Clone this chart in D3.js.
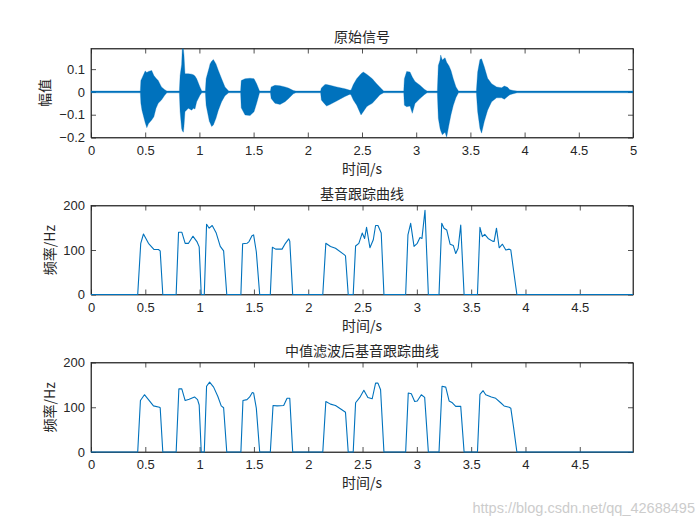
<!DOCTYPE html>
<html>
<head>
<meta charset="utf-8">
<script src="https://cdn.jsdelivr.net/npm/d3@7"></script>
<style>
  body { margin: 0; background: #fff; }
  svg { display: block; }
  .axis text { font-family: "Liberation Sans", Arial, sans-serif; font-size: 13px; fill: #262626; }
  .axis path, .axis line { stroke: #262626; stroke-width: 0.8; }
  .ttl, .lbl { font-family: "Noto Sans CJK SC", sans-serif; font-size: 14px; fill: #262626; }
</style>
</head>
<body>
<script>
// ---- data ----
// raw speech signal: envelope (upper / lower) over time
var waveT  = [0, 0.455, 0.46, 0.47, 0.50, 0.515, 0.53, 0.56, 0.58, 0.60, 0.62, 0.65, 0.68, 0.70,
  0.815, 0.822, 0.836, 0.842, 0.852, 0.858, 0.867, 0.898, 0.929, 0.944, 0.959, 0.975, 1.005, 1.022,
  1.055, 1.062, 1.092, 1.098, 1.113, 1.129, 1.153, 1.175, 1.205, 1.236, 1.27,
  1.38, 1.386, 1.421, 1.467, 1.504, 1.528, 1.555,
  1.655, 1.662, 1.697, 1.744, 1.79, 1.821, 1.867, 1.89,
  2.118, 2.125, 2.159, 2.174, 2.205, 2.266, 2.343, 2.39, 2.40, 2.42, 2.451, 2.491, 2.512, 2.543, 2.558, 2.595, 2.635, 2.666, 2.70,
  2.885, 2.891, 2.912, 2.943, 2.964, 2.989, 3.035, 3.075, 3.10,
  3.195, 3.204, 3.22, 3.226, 3.241, 3.266, 3.281, 3.302, 3.321, 3.342, 3.367, 3.39,
  3.555, 3.567, 3.588, 3.603, 3.628, 3.659, 3.696, 3.742, 3.788, 3.813, 3.843, 3.864, 3.895, 3.93, 5];
var waveHi = [0.004, 0.004, 0.05, 0.06, 0.092, 0.085, 0.09, 0.094, 0.072, 0.06, 0.05, 0.022, 0.01, 0.004,
  0.004, 0.072, 0.12, 0.19, 0.19, 0.16, 0.08, 0.08, 0.078, 0.075, 0.07, 0.058, 0.022, 0.004,
  0.004, 0.058, 0.11, 0.123, 0.135, 0.142, 0.123, 0.094, 0.058, 0.022, 0.004,
  0.004, 0.05, 0.058, 0.06, 0.058, 0.036, 0.004,
  0.004, 0.022, 0.029, 0.027, 0.022, 0.017, 0.006, 0.004,
  0.004, 0.017, 0.033, 0.032, 0.029, 0.022, 0.014, 0.007, 0.01, 0.032, 0.058, 0.08, 0.087, 0.078, 0.072, 0.058, 0.036, 0.02, 0.004,
  0.004, 0.058, 0.09, 0.087, 0.065, 0.046, 0.029, 0.012, 0.004,
  0.004, 0.116, 0.14, 0.162, 0.14, 0.15, 0.13, 0.115, 0.094, 0.058, 0.022, 0.004,
  0.004, 0.087, 0.142, 0.145, 0.11, 0.06, 0.036, 0.022, 0.018, 0.026, 0.02, 0.01, 0.006, 0.004, 0.004];
var waveLo = [-0.004, -0.004, -0.05, -0.08, -0.135, -0.157, -0.14, -0.123, -0.109, -0.072, -0.05, -0.036, -0.015, -0.004,
  -0.004, -0.087, -0.16, -0.17, -0.177, -0.15, -0.087, -0.072, -0.08, -0.072, -0.075, -0.043, -0.015, -0.004,
  -0.004, -0.058, -0.13, -0.135, -0.152, -0.145, -0.116, -0.08, -0.043, -0.017, -0.004,
  -0.004, -0.07, -0.101, -0.104, -0.087, -0.05, -0.004,
  -0.004, -0.029, -0.05, -0.055, -0.043, -0.03, -0.008, -0.004,
  -0.004, -0.036, -0.055, -0.062, -0.055, -0.04, -0.02, -0.01, -0.015, -0.036, -0.058, -0.101, -0.087, -0.065, -0.06, -0.05, -0.029, -0.012, -0.004,
  -0.004, -0.058, -0.065, -0.062, -0.094, -0.051, -0.029, -0.012, -0.004,
  -0.004, -0.116, -0.16, -0.17, -0.188, -0.177, -0.199, -0.145, -0.1, -0.06, -0.025, -0.004,
  -0.004, -0.087, -0.16, -0.181, -0.13, -0.08, -0.043, -0.026, -0.026, -0.032, -0.02, -0.012, -0.008, -0.004, -0.004];

// pitch track (Hz)
var pitchT = [0, 0.43, 0.458, 0.483, 0.529, 0.581, 0.621, 0.637, 0.661,
  0.784, 0.806, 0.836, 0.867, 0.898, 0.938, 0.975, 0.996, 1.015,
  1.043, 1.064, 1.088, 1.116, 1.153, 1.190, 1.221, 1.25,
  1.38, 1.396, 1.436, 1.455, 1.482, 1.497, 1.522, 1.553,
  1.651, 1.670, 1.700, 1.759, 1.790, 1.821, 1.830, 1.857,
  2.134, 2.162, 2.205, 2.251, 2.334, 2.343, 2.368,
  2.414, 2.436, 2.466, 2.497, 2.519, 2.537, 2.568, 2.599, 2.620, 2.642, 2.672, 2.697,
  2.897, 2.918, 2.943, 2.974, 3.004, 3.029, 3.047, 3.075, 3.106,
  3.204, 3.229, 3.250, 3.275, 3.306, 3.336, 3.358, 3.380, 3.404, 3.435,
  3.558, 3.581, 3.603, 3.625, 3.656, 3.696, 3.711, 3.733, 3.758, 3.788, 3.819, 3.850, 3.865, 3.890, 3.921, 4.99];
var pitchF = [0, 0, 115, 136, 115, 101, 101, 98, 0,
  0, 140, 140, 115, 115, 131, 119, 107, 0,
  0, 158, 149, 155, 138, 108, 98, 0,
  0, 114, 115, 119, 132, 134, 96, 0,
  0, 106, 102, 102, 115, 125, 120, 0,
  0, 115, 108, 104, 89, 87, 0,
  0, 109, 115, 138, 126, 151, 105, 123, 155, 155, 138, 0,
  0, 134, 160, 108, 115, 128, 126, 189, 0,
  0, 160, 149, 145, 113, 110, 92, 104, 156, 0,
  0, 151, 130, 135, 126, 120, 119, 149, 105, 113, 100, 102, 100, 55, 0, 0];

// pitch track after median filtering (Hz)
var smoothT = [0, 0.43, 0.455, 0.492, 0.529, 0.575, 0.630, 0.637, 0.661,
  0.784, 0.809, 0.836, 0.867, 0.904, 0.953, 0.981, 0.996, 1.015,
  1.043, 1.064, 1.092, 1.129, 1.168, 1.199, 1.221, 1.25,
  1.38, 1.399, 1.436, 1.461, 1.485, 1.497, 1.522, 1.553,
  1.651, 1.676, 1.713, 1.774, 1.805, 1.830, 1.857,
  2.134, 2.162, 2.205, 2.251, 2.313, 2.343, 2.368,
  2.414, 2.436, 2.475, 2.512, 2.549, 2.589, 2.620, 2.642, 2.666, 2.697,
  2.897, 2.921, 2.949, 2.980, 3.004, 3.041, 3.072, 3.106,
  3.204, 3.232, 3.266, 3.297, 3.327, 3.358, 3.404, 3.435,
  3.558, 3.581, 3.610, 3.634, 3.686, 3.726, 3.772, 3.803, 3.850, 3.865, 3.890, 3.921, 4.99];
var smoothF = [0, 0, 115, 128, 117, 103, 100, 99, 0,
  0, 141, 141, 115, 118, 123, 117, 105, 0,
  0, 147, 156, 145, 124, 103, 99, 0,
  0, 115, 117, 123, 133, 132, 98, 0,
  0, 104, 103, 104, 120, 120, 0,
  0, 113, 107, 104, 94, 89, 0,
  0, 110, 122, 138, 122, 119, 154, 154, 139, 0,
  0, 132, 130, 113, 114, 128, 122, 0,
  0, 147, 145, 114, 110, 102, 102, 0,
  0, 129, 137, 128, 123, 120, 110, 103, 100, 98, 56, 0, 0];

var waveYTicks = [-0.2, -0.1, 0, 0.1];
var pitchYTicks = [0, 100, 200];
var titles = ["原始信号", "基音跟踪曲线", "中值滤波后基音跟踪曲线"];
var xLabel = "时间/s";
var yLabels = ["幅值", "频率/Hz", "频率/Hz"];
var watermark = "https://blog.csdn.net/qq_42688495";

// ---- layout ----
var width = 700, height = 525;
var left = 91, right = 633;
var panels = [
  { top: 48.5, bottom: 137.5 },
  { top: 205.5, bottom: 294.5 },
  { top: 362.5, bottom: 452 }
];
var blue = "#0072BD";

var svg = d3.select("body").append("svg")
    .attr("width", width)
    .attr("height", height);

svg.append("rect").attr("width", width).attr("height", height).attr("fill", "#fff");

function drawFrame(i, x, y, xTicks, yTicks, yFmt, ylabX) {
  var p = panels[i];
  var tl = 5;

  svg.append("g")
      .attr("class", "axis")
      .attr("transform", "translate(0," + p.bottom + ")")
      .call(d3.axisBottom(x).tickValues(xTicks).tickSizeInner(-tl).tickSizeOuter(0).tickPadding(8).tickFormat(d3.format("")));
  svg.append("g")
      .attr("class", "axis")
      .attr("transform", "translate(0," + p.top + ")")
      .call(d3.axisTop(x).tickValues(xTicks).tickSizeInner(-tl).tickSizeOuter(0).tickFormat(""));
  svg.append("g")
      .attr("class", "axis")
      .attr("transform", "translate(" + left + ",0)")
      .call(d3.axisLeft(y).tickValues(yTicks).tickSizeInner(-tl).tickSizeOuter(0).tickPadding(6).tickFormat(yFmt));
  svg.append("g")
      .attr("class", "axis")
      .attr("transform", "translate(" + right + ",0)")
      .call(d3.axisRight(y).tickValues(yTicks).tickSizeInner(-tl).tickSizeOuter(0).tickFormat(""));

  svg.append("rect")
      .attr("x", left).attr("y", p.top)
      .attr("width", right - left).attr("height", p.bottom - p.top)
      .attr("fill", "none").attr("stroke", "#262626").attr("stroke-width", 0.8);

  svg.append("text").attr("class", "ttl")
      .attr("x", (left + right) / 2).attr("y", p.top - 7)
      .attr("text-anchor", "middle").text(titles[i]);
  svg.append("text").attr("class", "lbl")
      .attr("x", (left + right) / 2).attr("y", p.bottom + 36)
      .attr("text-anchor", "middle").text(xLabel);
  svg.append("text").attr("class", "lbl")
      .attr("transform", "translate(" + ylabX + "," + (p.top + p.bottom) / 2 + ") rotate(-90)")
      .attr("text-anchor", "middle").text(yLabels[i]);
}

function drawWave() {
  var p = panels[0];
  var x = d3.scaleLinear().domain([0, 5]).range([left, right]);
  var y = d3.scaleLinear().domain([-0.2, 0.1905]).range([p.bottom, p.top]);

  drawFrame(0, x, y, d3.range(0, 5.01, 0.5), waveYTicks, function(d) { return d3.format("")(+d.toFixed(1)); }, 50);

  svg.append("clipPath").attr("id", "clip0")
    .append("rect").attr("x", left).attr("y", p.top).attr("width", right - left).attr("height", p.bottom - p.top);

  var area = d3.area()
      .x(function(d) { return x(waveT[d]); })
      .y0(function(d) { return y(waveLo[d]); })
      .y1(function(d) { return y(waveHi[d]); });

  svg.append("path")
      .attr("clip-path", "url(#clip0)")
      .attr("d", area(d3.range(waveT.length)))
      .attr("fill", blue)
      .attr("stroke", blue)
      .attr("stroke-width", 0.6)
      .attr("stroke-opacity", 0.5);
}

function drawPitch(i, T, F) {
  var p = panels[i];
  var x = d3.scaleLinear().domain([0, 4.99]).range([left, right]);
  var y = d3.scaleLinear().domain([0, 200]).range([p.bottom, p.top]);

  drawFrame(i, x, y, d3.range(0, 4.51, 0.5), pitchYTicks, d3.format(""), 55);

  var line = d3.line()
      .x(function(d) { return x(T[d]); })
      .y(function(d) { return y(F[d]); });

  svg.append("path")
      .attr("d", line(d3.range(T.length)))
      .attr("fill", "none")
      .attr("stroke", blue)
      .attr("stroke-width", 1.1)
      .attr("stroke-linejoin", "round");
}

drawWave();
drawPitch(1, pitchT, pitchF);
drawPitch(2, smoothT, smoothF);

svg.append("text")
    .attr("x", 695).attr("y", 513)
    .attr("text-anchor", "end")
    .attr("font-family", "Liberation Sans, Arial, sans-serif")
    .attr("font-size", 14.5)
    .attr("fill", "#cccccc")
    .text(watermark);
</script>
</body>
</html>
